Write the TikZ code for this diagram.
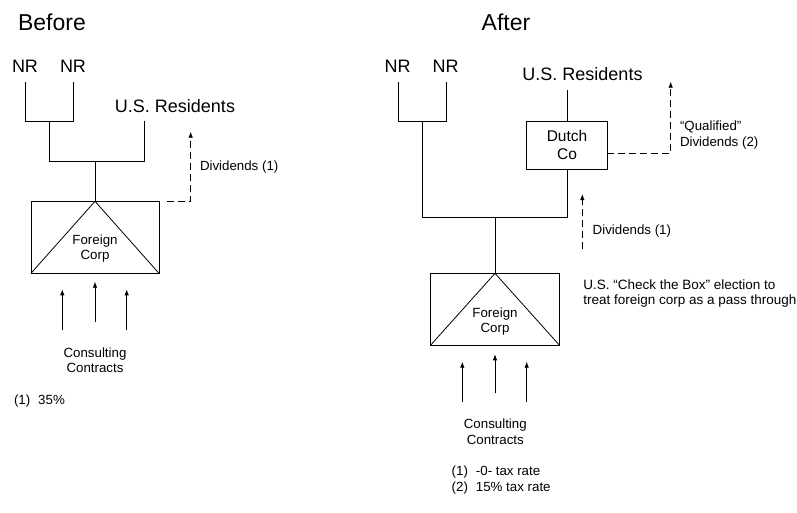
\documentclass[tikz,border=0pt]{standalone}
\usepackage{fontspec}
\setmainfont{Liberation Sans}
\usetikzlibrary{arrows.meta}
\begin{document}
\begin{tikzpicture}[x=1pt,y=-1pt,
  every node/.style={inner sep=0pt, outer sep=0pt},
  conn/.style={line width=0.8pt},
  title/.style={font=\fontsize{23}{27}\selectfont},
  party/.style={font=\fontsize{18}{21}\selectfont},
  small/.style={font=\fontsize{13.3}{15.5}\selectfont},
  corpbox/.style={draw, line width=0.8pt, minimum width=128pt, minimum height=72pt},
  dutchbox/.style={draw, line width=0.8pt, minimum width=80.6pt, minimum height=48.3pt, align=center, font=\fontsize{15.5}{18}\selectfont},
  divarrow/.style={line width=0.8pt, dash pattern=on 7pt off 4pt, -{Latex[length=6pt,width=4.5pt]}},
  inarrow/.style={line width=0.8pt, -{Latex[length=6pt,width=4.5pt]}}
]
\useasboundingbox (0,0) rectangle (797,512);
\fill[white] (0,0) rectangle (797,512);

% ---------------- Before ----------------
\node[title] (before) at (52,22) {Before};
\node[party] (nr1) at (25,66) {NR};
\node[party] (nr2) at (73,66) {NR};
\node[party] (usr1) at (175,106) {U.S. Residents};
\node[corpbox] (fc1) at (95,237.3) {};
\node[small, align=center] (fc1t) at (95,248.5) {Foreign\\Corp};
\draw[conn] (fc1.north) -- (fc1.south west);
\draw[conn] (fc1.north) -- (fc1.south east);

\coordinate (j1) at (49.5,121);
\coordinate (j2) at (95,161);
\draw[conn] (nr1.south) ++(0.7,9.5) |- (j1);
\draw[conn] (nr2.south) ++(0.3,9.5) |- (j1);
\draw[conn] (j1) |- (j2);
\draw[conn] (usr1.south west) ++(29.7,8) |- (j2);
\draw[conn] (j2) -- (fc1.north);

\coordinate (d1top) at (190.7,131.7);
\draw[divarrow] ([xshift=8pt]fc1.north east) -| (d1top);
\node[small, anchor=west] (div1) at (200,167) {Dividends (1)};

\node[small, align=center] (cc1) at (95,360) {Consulting\\Contracts};
\coordinate (a1s) at (62.3,330);   \coordinate (a1e) at (62.3,289.3);
\coordinate (a2s) at (95,321.7);   \coordinate (a2e) at (95,281.7);
\coordinate (a3s) at (126.7,330);  \coordinate (a3e) at (126.7,289.3);
\draw[inarrow] (a1s) -- (a1e);
\draw[inarrow] (a2s) -- (a2e);
\draw[inarrow] (a3s) -- (a3e);

\node[small, anchor=west] (note1) at (14,401) {(1)\hspace{0.6em}35\%};

% ---------------- After ----------------
\node[title] (after) at (506,22) {After};
\node[party] (nr3) at (397.5,66) {NR};
\node[party] (nr4) at (445.5,66) {NR};
\node[party] (usr2) at (582.5,74) {U.S. Residents};
\node[dutchbox] (dutch) at (567,145.2) {Dutch\\Co};
\node[corpbox, minimum width=128.6pt, minimum height=71.7pt] (fc2) at (495,309.2) {};
\node[small, align=center] (fc2t) at (495,321.5) {Foreign\\Corp};
\draw[conn] (fc2.north) -- (fc2.south west);
\draw[conn] (fc2.north) -- (fc2.south east);

\coordinate (j3) at (422.7,121);
\coordinate (j4) at (495,217.3);
\coordinate (jd) at (567,217.3);
\draw[conn] (nr3.south) ++(0.8,9.7) |- (j3);
\draw[conn] (nr4.south) ++(1.2,9.7) |- (j3);
\draw[conn] (j3) |- (jd) -- (dutch.south);
\draw[conn] (j4) -- (fc2.north);
\draw[conn] (dutch.north) -- ([yshift=-9.3pt]usr2.south -| dutch.north);

\coordinate (d2top) at (670.7,81.7);
\draw[divarrow] ([yshift=-8.1pt]dutch.east) -| (d2top);
\node[small, anchor=west, align=left, font=\fontsize{13.3}{16}\selectfont] (qdiv) at (680,135) {“Qualified”\\Dividends (2)};

\coordinate (d3s) at (582.3,249.3);
\coordinate (d3e) at (582.3,194);
\draw[divarrow] (d3s) -- (d3e);
\node[small, anchor=west] (div2) at (592.7,230.7) {Dividends (1)};

\node[small, anchor=west, align=left, font=\fontsize{13.5}{14.5}\selectfont] (ctb) at (583.3,293.7) {U.S. “Check the Box” election to\\treat foreign corp as a pass through};

\node[small, align=center, font=\fontsize{13.3}{16}\selectfont] (cc2) at (495.3,432) {Consulting\\Contracts};
\coordinate (b1s) at (462.3,401.7); \coordinate (b1e) at (462.3,361.7);
\coordinate (b2s) at (495,393.3);   \coordinate (b2e) at (495,354.3);
\coordinate (b3s) at (526.7,401.7); \coordinate (b3e) at (526.7,361.7);
\draw[inarrow] (b1s) -- (b1e);
\draw[inarrow] (b2s) -- (b2e);
\draw[inarrow] (b3s) -- (b3e);

\node[small, anchor=west] (note2) at (451.7,471.7) {(1)\hspace{0.6em}-0- tax rate};
\node[small, anchor=west] (note3) at (451.7,487.7) {(2)\hspace{0.6em}15\% tax rate};
\end{tikzpicture}
\end{document}
